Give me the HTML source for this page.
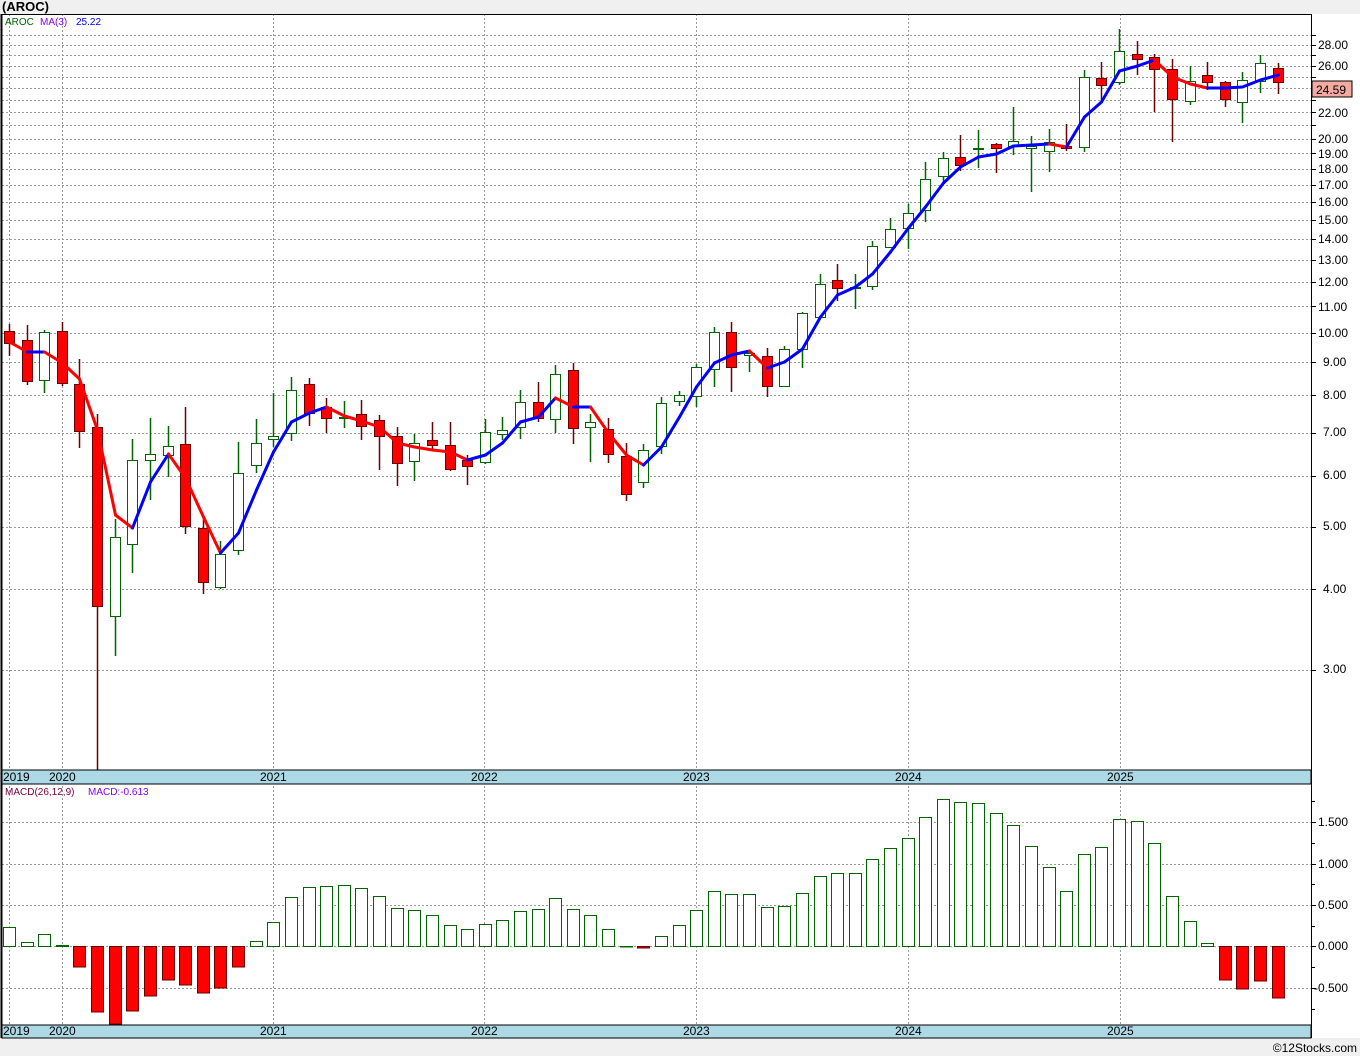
<!DOCTYPE html>
<html><head><meta charset="utf-8"><style>
html,body{margin:0;padding:0;background:#f0f0f0;}
svg{display:block;font-family:"Liberation Sans","DejaVu Sans",sans-serif;}
</style></head><body>
<svg id="c" width="1360" height="1056" xmlns="http://www.w3.org/2000/svg">
<rect x="0" y="0" width="1360" height="1056" fill="#f0f0f0"/>
<rect x="2" y="14" width="1358" height="1024" fill="#fff"/>
<text x="2" y="11" font-size="13" font-weight="bold" fill="#000">(AROC)</text>
<g id="grid"></g>
<g id="macd"></g>
<g id="candles"></g>
<g id="ma"></g>
<!-- axis bands -->
<rect x="2" y="770" width="1309" height="14" fill="#add8e6" stroke="#000" stroke-width="1"/>
<rect x="2" y="1025" width="1309" height="13" fill="#add8e6" stroke="#000" stroke-width="1"/>
<line x1="1.5" y1="14" x2="1.5" y2="1038" stroke="#000" stroke-width="2"/>
<line x1="1" y1="14.5" x2="1311" y2="14.5" stroke="#000"/>
<line x1="1311.5" y1="14" x2="1311.5" y2="1038" stroke="#000"/>
<g font-size="12" fill="#000">
<text x="3" y="781">2019</text><text x="49" y="781">2020</text><text x="260" y="781">2021</text><text x="471" y="781">2022</text><text x="683" y="781">2023</text><text x="895" y="781">2024</text><text x="1107" y="781">2025</text>
<text x="3" y="1035">2019</text><text x="49" y="1035">2020</text><text x="260" y="1035">2021</text><text x="471" y="1035">2022</text><text x="683" y="1035">2023</text><text x="895" y="1035">2024</text><text x="1107" y="1035">2025</text>
</g>
<text x="5" y="25" font-size="10" fill="#006400">AROC</text>
<text x="40" y="25" font-size="10" fill="#8000ff">MA(3)</text>
<text x="76" y="25" font-size="10" fill="#0000ff">25.22</text>
<text x="5" y="795" font-size="10" fill="#800040">MACD(26,12,9)</text>
<text x="88" y="795" font-size="10" fill="#8000ff">MACD:-0.613</text>
<g font-size="12" fill="#000" id="plabels">
<text x="1318" y="49">28.00</text><text x="1318" y="70">26.00</text><text x="1318" y="117">22.00</text>
<text x="1318" y="143">20.00</text><text x="1318" y="158">19.00</text><text x="1318" y="173">18.00</text>
<text x="1318" y="189">17.00</text><text x="1318" y="206">16.00</text><text x="1318" y="224">15.00</text>
<text x="1318" y="243">14.00</text><text x="1318" y="264">13.00</text><text x="1318" y="286">12.00</text>
<text x="1318" y="311">11.00</text><text x="1318" y="337">10.00</text><text x="1323" y="366">9.00</text>
<text x="1323" y="399">8.00</text><text x="1323" y="436">7.00</text><text x="1323" y="479">6.00</text>
<text x="1323" y="530">5.00</text><text x="1323" y="593">4.00</text><text x="1323" y="673">3.00</text>
<text x="1318" y="826">1.500</text><text x="1318" y="868">1.000</text><text x="1318" y="909">0.500</text>
<text x="1318" y="950">0.000</text><text x="1314" y="992">-0.500</text>
</g>
<rect x="1312" y="81" width="40" height="16" fill="#f4aaa0" stroke="#000"/>
<text x="1316" y="94" font-size="12" fill="#000">24.59</text>
<text x="1357" y="1052" font-size="12" fill="#000" text-anchor="end">©12Stocks.com</text>
</svg>
<script>
var NS="http://www.w3.org/2000/svg";
function el(p,t,a){var e=document.createElementNS(NS,t);for(var k in a)e.setAttribute(k,a[k]);p.appendChild(e);return e;}
var grid=document.getElementById('grid');
function py(p){return 333-279.7*Math.log(p/10);}
for(var p=3;p<=29;p++){var y=Math.round(py(p))+0.5;el(grid,'line',{x1:2,y1:y,x2:1311,y2:y,stroke:'#999','stroke-dasharray':'2,2'});el(grid,'line',{x1:1311,y1:y,x2:1316,y2:y,stroke:'#000'});}
[822,864,905,946,988].forEach(function(y){el(grid,'line',{x1:2,y1:y+.5,x2:1311,y2:y+.5,stroke:'#999','stroke-dasharray':'2,2'});el(grid,'line',{x1:1311,y1:y+.5,x2:1316,y2:y+.5,stroke:'#000'});});
[801,843,884,926,967,1009].forEach(function(y){el(grid,'line',{x1:1311,y1:y+.5,x2:1315,y2:y+.5,stroke:'#000'});});
[9,62,273,484,696,908,1120].forEach(function(x){el(grid,'line',{x1:x+.5,y1:14,x2:x+.5,y2:1025,stroke:'#999','stroke-dasharray':'2,2'});});
// candles: [c, top, bottom, hi, lo, red?]
var C=[[331,343,324,356,1],[340,381,325,385,1],[332,380,330,393,0],[331,383,322,386,1],[384,431,359,448,1],[427,606,414,770,1],[537,616,519,656,0],[460,544,439,573,0],[454,460,418,500,0],[446,455,426,477,0],[444,526,407,534,1],[528,582,517,594,1],[554,587,541,589,0],[473,550,442,555,0],[443,465,419,473,0],[436,439,393,447,0],[390,433,377,441,0],[384,413,378,426,1],[407,418,398,433,1],[417,418,401,428,0],[414,426,400,440,1],[420,436,415,470,1],[436,463,427,486,1],[443,461,434,481,0],[440,445,422,449,1],[445,469,422,471,1],[460,466,455,485,1],[432,462,419,464,0],[430,434,417,440,0],[402,427,390,439,0],[402,418,382,422,1],[374,419,365,433,0],[370,428,363,444,1],[422,427,414,462,0],[429,454,418,463,1],[456,494,443,501,1],[450,482,444,488,0],[403,446,397,454,0],[395,401,391,406,0],[367,396,364,407,0],[332,369,327,387,0],[332,367,322,392,1],[353,355,350,372,0],[356,386,348,397,1],[349,386,346,386,0],[313,349,312,368,0],[284,317,274,317,0],[280,288,264,301,1],[287,288,274,309,0],[246,286,241,290,0],[229,247,218,247,0],[213,228,204,249,0],[179,210,162,222,0],[158,176,152,182,0],[157,165,135,171,1],[148,148,130,168,0],[144,148,143,173,1],[141,146,107,155,0],[146,148,136,192,0],[142,151,129,172,0],[146,148,124,151,1],[77,147,70,152,0],[78,85,62,100,1],[51,82,29,85,0],[54,59,41,75,1],[57,69,54,112,1],[69,99,59,142,1],[81,101,66,105,0],[75,82,62,90,1],[82,99,81,107,1],[80,102,72,123,0],[63,81,55,93,0],[68,82,63,94,1]];
var cg=document.getElementById('candles');
function cx(i){return Math.round(9+17.62*i);}
C.forEach(function(c,i){var x=cx(i);var red=c[4];var sc=red?'#6b0000':'#006400';
el(cg,'line',{x1:x+.5,y1:c[2],x2:x+.5,y2:c[3],stroke:sc,'stroke-width':1.5});
var h=Math.max(1,c[1]-c[0]);el(cg,'rect',{x:x-4.5,y:c[0]+.5,width:10,height:h,fill:red?'#ff0000':'#fff',stroke:sc,'stroke-width':1});});
var M=[342,352,352,363,379,430,515,528,482,454,478,517,553,533,490,452,422,413,407,416,421,427,443,447,450,452,460,455,443,422,417,398,407,407,433,455,465,447,417,387,363,355,351,368,362,349,317,295,287,274,252,228,207,183,167,157,154,146,145,144,147,117,102,71,66,60,77,84,88,88,87,80,75];
var mg=document.getElementById('ma');
for(var i=0;i<M.length-1;i++){var col=M[i+1]>M[i]+0.5?'#ff0000':'#0000ff';el(mg,'line',{x1:cx(i)+.5,y1:M[i],x2:cx(i+1)+.5,y2:M[i+1],stroke:col,'stroke-width':3,'stroke-linecap':'round'});}
var B=[927,942,934,945,967,1012,1025,1011,996,980,985,993,988,967,941,922,897,887,886,885,888,896,908,910,915,925,929,924,920,911,909,898,909,915,929,946,948,936,925,910,891,894,894,907,906,893,876,873,873,859,848,838,817,799,802,803,813,825,846,867,891,854,847,819,821,843,896,921,943,980,989,981,998];
var bg=document.getElementById('macd');var z=946.5;
B.forEach(function(b,i){var x=cx(i);if(b<=946){el(bg,'rect',{x:x-5.5,y:b+.5,width:12,height:Math.max(0.5,z-b-.5),fill:'#fff',stroke:'#006400'});}else{el(bg,'rect',{x:x-5.5,y:z,width:12,height:Math.min(b,1024)-z,fill:'#ff0000',stroke:'#6b0000'});}});
</script>
</body></html>
